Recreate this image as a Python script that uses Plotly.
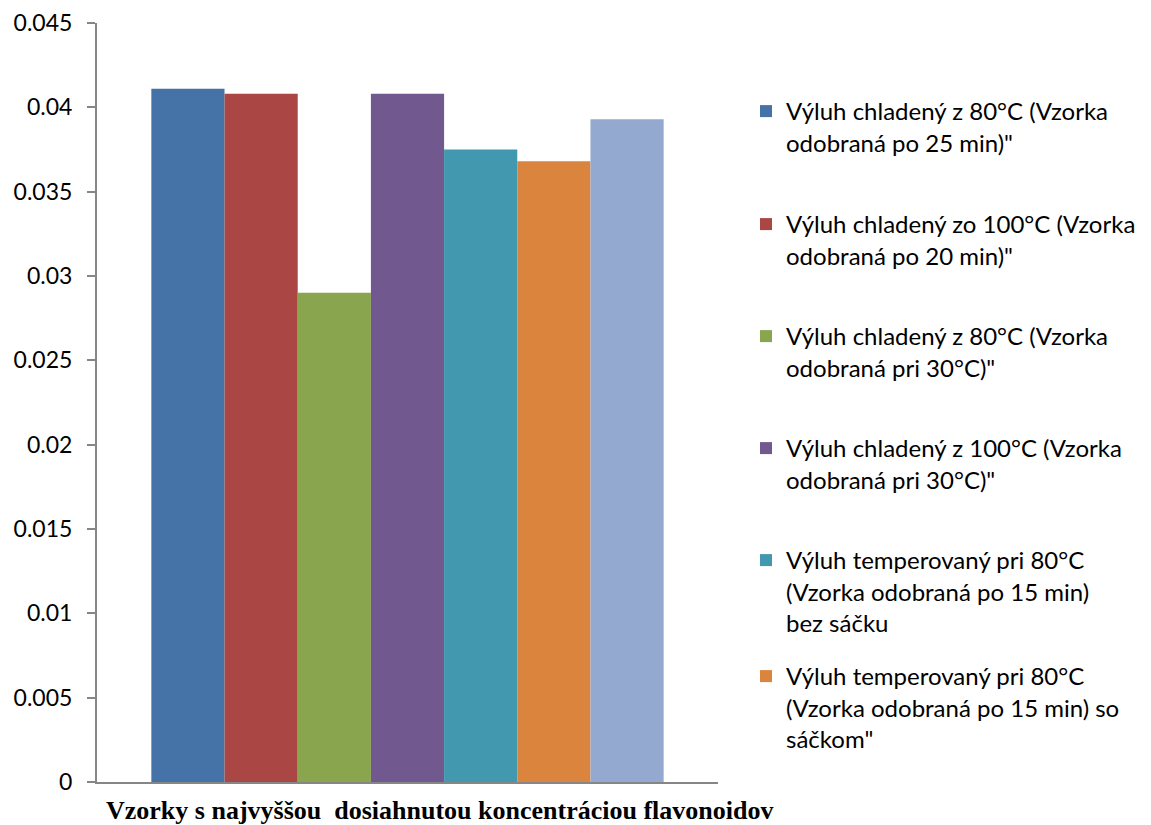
import plotly.graph_objects as go

# Flavonoid concentrations of the best samples (one bar per extraction variant)
series_names = [
    "Výluh chladený z 80°C (Vzorka<br>odobraná po 25 min)\"",
    "Výluh chladený zo 100°C (Vzorka<br>odobraná po 20 min)\"",
    "Výluh chladený z 80°C (Vzorka<br>odobraná pri 30°C)\"",
    "Výluh chladený z 100°C (Vzorka<br>odobraná pri 30°C)\"",
    "Výluh temperovaný pri 80°C<br>(Vzorka odobraná po 15 min)<br>bez sáčku",
    "Výluh temperovaný pri 80°C<br>(Vzorka odobraná po 15 min) so<br>sáčkom\"",
    "Výluh temperovaný pri 100°C",
]
values = [0.0411, 0.0408, 0.0290, 0.0408, 0.0375, 0.0368, 0.0393]
colors = ["#4572A7", "#AA4643", "#89A54E", "#71588F", "#4198AF", "#DB843D", "#93A9CF"]
in_legend = [True, True, True, True, True, True, False]
category = ["Vzorky"]
axis_title = "Vzorky s najvyššou  dosiahnutou koncentráciou flavonoidov"
y_ticks = [0, 0.005, 0.01, 0.015, 0.02, 0.025, 0.03, 0.035, 0.04, 0.045]
y_tick_text = ["0", "0.005", "0.01", "0.015", "0.02", "0.025", "0.03", "0.035", "0.04", "0.045"]

W, H = 1151, 825
M_L, M_R, M_T, M_B = 97, 433, 23, 43
plot_h = H - M_T - M_B
plot_w = W - M_L - M_R

# top pixel of each legend block
legend_tops = [89, 202, 314, 426, 538, 654]
legend_keys = ["legend"] + [f"legend{i}" for i in range(2, 7)]

fig = go.Figure()
for i, (name, val, col) in enumerate(zip(series_names, values, colors)):
    fig.add_trace(go.Bar(
        x=category, y=[val], name=name,
        marker=dict(color=col, line=dict(width=0)),
        showlegend=in_legend[i],
        legend=legend_keys[i] if i < len(legend_keys) else "legend",
    ))

legend_font = dict(family="Lato, 'Open Sans', sans-serif", size=24, color="#000000")
layout_legends = {}
for key, top in zip(legend_keys, legend_tops):
    layout_legends[key] = dict(
        x=1.0 + (746 - (W - M_R)) / plot_w,
        xanchor="left",
        y=(H - M_B - top) / plot_h,
        yanchor="top",
        font=legend_font,
        valign="top",
        itemwidth=30,
        bgcolor="rgba(0,0,0,0)",
        borderwidth=0,
        visible=True,
    )

fig.update_layout(
    width=W, height=H,
    margin=dict(l=M_L, r=M_R, t=M_T, b=M_B, pad=0, autoexpand=False),
    paper_bgcolor="white", plot_bgcolor="white",
    showlegend=True,
    barmode="group", bargap=0.175, bargroupgap=0,
    font=dict(family="Lato, 'Open Sans', sans-serif", size=22, color="#000000"),
    xaxis=dict(
        showline=True, linecolor="#868686", linewidth=2,
        showticklabels=False, ticks="", showgrid=False, zeroline=False,
        range=[-0.5, 0.5], automargin=False,
    ),
    yaxis=dict(
        range=[0, 0.045], tickvals=y_ticks, ticktext=y_tick_text,
        showline=True, linecolor="#868686", linewidth=2,
        ticks="outside", ticklen=8, tickcolor="#868686", tickwidth=2,
        showgrid=False, zeroline=False, automargin=False,
        tickfont=dict(family="Lato, 'Open Sans', sans-serif", size=23, color="#000000"),
        ticklabelstandoff=10,
    ),
    annotations=[dict(
        text=f"<b>{axis_title}</b>",
        xref="paper", yref="paper",
        x=(439 - M_L) / plot_w, y=(H - M_B - 810) / plot_h,
        xanchor="center", yanchor="middle", showarrow=False,
        font=dict(family="'Liberation Serif', 'Times New Roman', serif", size=26, color="#000000"),
    )],
    **layout_legends,
)

fig.write_html("out.html")
